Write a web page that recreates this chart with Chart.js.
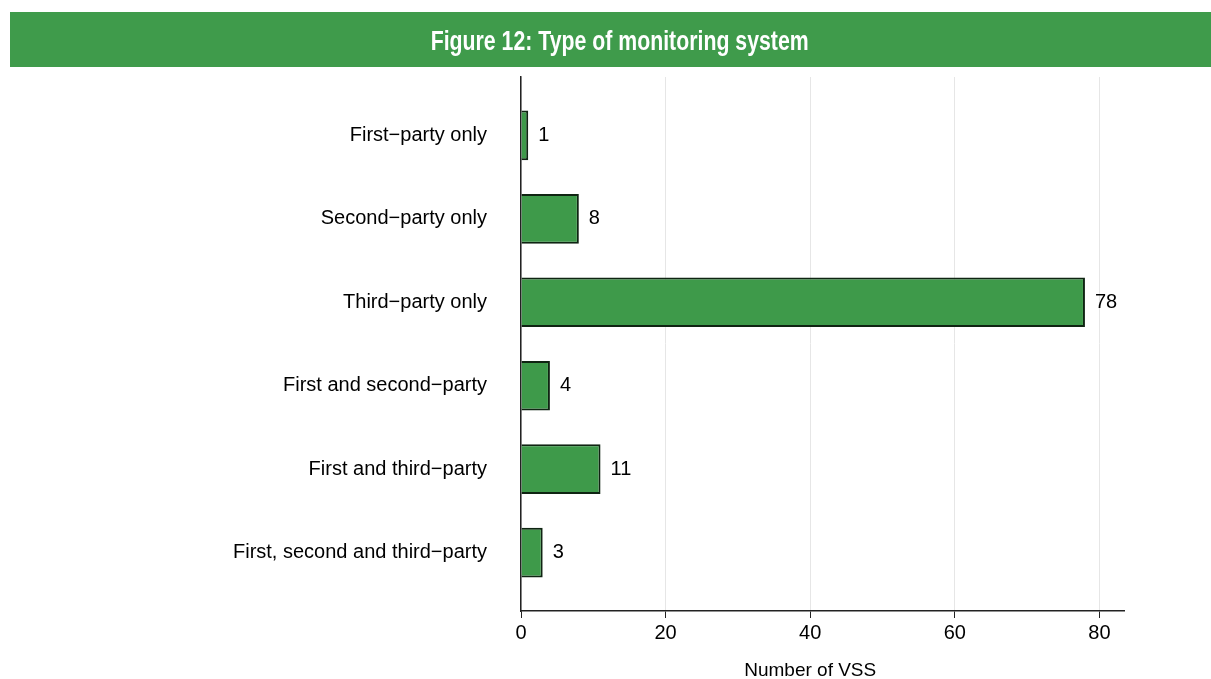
<!DOCTYPE html>
<html>
<head>
<meta charset="utf-8">
<script src="https://cdn.jsdelivr.net/npm/chart.js@4.4.1/dist/chart.umd.min.js"></script>
<style>
  html, body { margin: 0; padding: 0; background: #fff; }
  #wrap { position: relative; width: 1211px; height: 679px; overflow: hidden; }
  #banner {
    position: absolute; left: 10px; top: 12px; width: 1201px; height: 55px;
    background: #3f9b4b; color: #fff; text-align: center;
    font-family: "Liberation Sans", Arial, sans-serif;
    font-weight: bold; font-size: 28px; line-height: 57px;
  }
  #banner span { display: inline-block; transform: scaleX(0.76); margin-left: 18px; }
  #chart { position: absolute; left: 0; top: 0; }
</style>
</head>
<body>
<div id="wrap">
  <canvas id="chart" width="1211" height="679"></canvas>
  <div id="banner"><span>Figure 12: Type of monitoring system</span></div>
</div>
<script>
// ─── Data ───────────────────────────────────────
const categories = [
    'First−party only',
    'Second−party only',
    'Third−party only',
    'First and second−party',
    'First and third−party',
    'First, second and third−party',
];
const counts = [1, 8, 78, 4, 11, 3];
const xTicks = [0, 20, 40, 60, 80];
const xTitle = 'Number of VSS';

const FONT = '"Liberation Sans", Arial, sans-serif';
const BAR_GREEN = '#3e9a4a';

// value labels to the right of each bar + axis title under the 0..80 span
const annotations = {
    id: 'annotations',
    afterDatasetsDraw(chart) {
        const ctx = chart.ctx;
        const meta = chart.getDatasetMeta(0);
        ctx.save();
        ctx.font = '20px ' + FONT;
        ctx.fillStyle = '#000';
        ctx.textAlign = 'left';
        ctx.textBaseline = 'middle';
        meta.data.forEach((bar, i) => {
            ctx.fillText(String(counts[i]), bar.x + 10, bar.y);
        });
        // x axis title, centred on the labelled range like the original
        const xs = chart.scales.x;
        const mid = (xs.getPixelForValue(xTicks[0]) + xs.getPixelForValue(xTicks[xTicks.length - 1])) / 2;
        ctx.textAlign = 'center';
        ctx.font = '19px ' + FONT;
        ctx.fillText(xTitle, mid, 671);
        ctx.restore();
    }
};

new Chart(document.getElementById('chart'), {
    type: 'bar',
    data: {
        datasets: [{
            data: counts.map((v, i) => ({ x: v, y: i })),
            backgroundColor: BAR_GREEN,
            borderColor: '#0f2412',
            borderWidth: 2,
            barPercentage: 0.595,
            categoryPercentage: 1,
        }],
    },
    options: {
        indexAxis: 'y',
        responsive: false,
        animation: false,
        layout: { padding: { top: 77, right: 87, left: 0, bottom: 0 } },
        plugins: {
            legend: { display: false },
            tooltip: { enabled: false },
        },
        scales: {
            x: {
                type: 'linear',
                min: 0,
                max: 83.4,
                afterBuildTicks: s => { s.ticks = xTicks.map(v => ({ value: v })); },
                afterFit: s => { s.height = 68; },
                grid: {
                    color: '#e6e6e6',
                    lineWidth: 1,
                    tickColor: '#222',
                    tickLength: 7,
                },
                border: { display: true, color: '#222', width: 1.5 },
                ticks: {
                    color: '#000',
                    font: { family: FONT, size: 20 },
                    padding: 3,
                },
            },
            y: {
                type: 'linear',
                reverse: true,
                offset: false,
                min: -0.7,
                max: 5.7,
                afterBuildTicks: s => { s.ticks = categories.map((_, i) => ({ value: i })); },
                afterFit: s => { s.width = 521; },
                grid: { display: false, offset: false },
                border: { display: true, color: '#222', width: 1.5 },
                ticks: {
                    color: '#000',
                    font: { family: FONT, size: 20 },
                    padding: 26,
                    callback: v => categories[v] ?? '',
                },
            },
        },
    },
    plugins: [annotations],
});
</script>
</body>
</html>
